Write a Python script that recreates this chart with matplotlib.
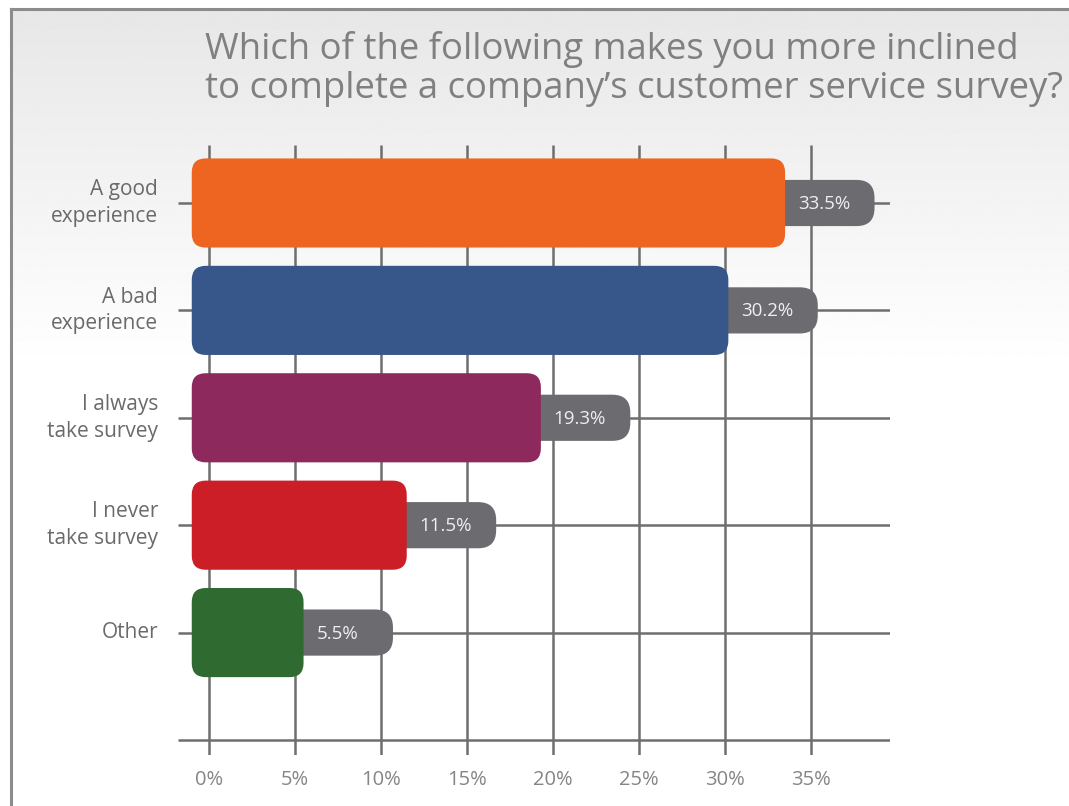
import numpy as np
import matplotlib.pyplot as plt
from matplotlib.patches import FancyBboxPatch
from matplotlib.lines import Line2D

# survey answers, top to bottom
categories = ["A good\nexperience", "A bad\nexperience", "I always\ntake survey",
              "I never\ntake survey", "Other"]
shares = [33.5, 30.2, 19.3, 11.5, 5.5]
bar_colors = ["#ee6421", "#37578a", "#8d295d", "#cb1e27", "#2f6a30"]
x_ticks = [0, 5, 10, 15, 20, 25, 30, 35]
title = "Which of the following makes you more inclined\nto complete a company\u2019s customer service survey?"

W, H = 1069, 806
fig = plt.figure(figsize=(W / 100, H / 100), dpi=100)
fig.patch.set_facecolor("white")

# soft grey-to-white backdrop inside the frame
bg = fig.add_axes([11 / W, 0, 1 - 11 / W, 1 - 9 / H], zorder=-5)
grad = np.linspace(0.905, 1.0, 300)
grad = np.concatenate([grad, np.ones(360)])[:, None]
bg.imshow(np.repeat(grad, 2, axis=1), cmap="gray", vmin=0, vmax=1,
          aspect="auto", extent=[0, 1, 0, 1])
bg.axis("off")

frame_col = "#8c8c8c"
fig.add_artist(Line2D([11 / W, 11 / W], [0, 1 - 9 / H], color=frame_col, lw=2.2))
fig.add_artist(Line2D([11 / W, 1], [1 - 9 / H, 1 - 9 / H], color=frame_col, lw=2.2))

fig.text(205 / W, 1 - 31 / H, title, ha="left", va="top", fontsize=26.3,
         family="Open Sans", color="#808080", linespacing=1.1)

# plot area: x from -1.8% to 39.6%, y rows 0..5 (inverted)
x0, x1 = -1.8, 39.6
y_top, y_bot = -0.54, 5.14
ax = fig.add_axes([178 / W, 1 - 755 / H, (890 - 178) / W, (755 - 145) / H])
ax.set_xlim(x0, x1)
ax.set_ylim(y_bot, y_top)
ax.axis("off")

grid_col = "#6e6e6e"
ax.vlines(x_ticks, y_top, y_bot, color=grid_col, lw=1.8, zorder=1)
ax.hlines(range(len(categories) + 1), x0, x1, color=grid_col, lw=1.8, zorder=1)

px_x = (890 - 178) / (x1 - x0)          # pixels per % unit
px_y = (755 - 145) / (y_bot - y_top)    # pixels per row
aspect = px_x / px_y

bar_h = 0.83
pill_h = 0.43
bar_start = -1.0
for i, (v, c) in enumerate(zip(shares, bar_colors)):
    # value pill sits behind the bar and pokes out to the right
    pill = FancyBboxPatch((v - 1.5, i - pill_h / 2), 1.5 + 5.2, pill_h,
                          boxstyle=f"round,pad=0,rounding_size={18 / px_x:.3f}",
                          mutation_aspect=aspect, fc="#6c6c70", ec="none", zorder=2)
    ax.add_patch(pill)
    bar = FancyBboxPatch((bar_start, i - bar_h / 2), v - bar_start, bar_h,
                         boxstyle=f"round,pad=0,rounding_size={14 / px_x:.3f}",
                         mutation_aspect=aspect, fc=c, ec="none", zorder=3)
    ax.add_patch(bar)
    ax.text(v + 0.75, i + 0.01, f"{v}%", ha="left", va="center", fontsize=13.5,
            family="Open Sans", color="#efefef", zorder=4)
    ax.text(-2.95, i, categories[i], ha="right", va="center", fontsize=15,
            family="Open Sans", color="#6a6a6a", linespacing=1.35,
            multialignment="right", clip_on=False)

for t in x_ticks:
    ax.text(t, 5.37, f"{t}%", ha="center", va="center", fontsize=14.5,
            family="Open Sans", color="#858585", clip_on=False)

fig.savefig("out.png", dpi=100, facecolor="white")
